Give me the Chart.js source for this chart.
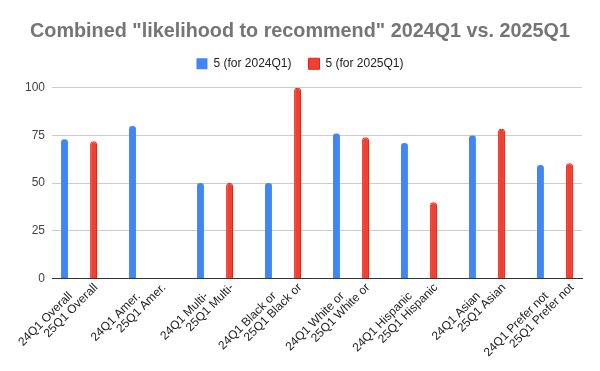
<!DOCTYPE html>
<html>
<head>
<meta charset="utf-8">
<script src="https://cdn.jsdelivr.net/npm/chart.js@4.4.1/dist/chart.umd.min.js"></script>
<style>
  html, body { margin: 0; padding: 0; background: #fff; }
  #wrap { width: 600px; height: 371px; position: relative; }
</style>
</head>
<body>
<div id="wrap"><canvas id="c" width="600" height="371"></canvas></div>
<script>
const titleText = 'Combined "likelihood to recommend" 2024Q1 vs. 2025Q1';
const categories = ['24Q1 Overall','25Q1 Overall','24Q1 Amer.','25Q1 Amer.','24Q1 Multi-','25Q1 Multi-','24Q1 Black or','25Q1 Black or','24Q1 White or','25Q1 White or','24Q1 Hispanic','25Q1 Hispanic','24Q1 Asian','25Q1 Asian','24Q1 Prefer not','25Q1 Prefer not'];
const seriesNames = ['5 (for 2024Q1)', '5 (for 2025Q1)'];
const values2024 = [73, null, 80, null, 50, null, 50, null, 76, null, 71, null, 75, null, 59.5, null];
const values2025 = [null, 72, null, null, null, 50, null, 100, null, 74, null, 40, null, 78.5, null, 60.4];
const yTicks = [0, 25, 50, 75, 100];

const BLUE = '#4285F4';
const RED = '#EA4335';
const FONT = "'Liberation Sans', Arial, sans-serif";

new Chart(document.getElementById('c'), {
  type: 'bar',
  data: {
    labels: categories,
    datasets: [
      { label: seriesNames[0], data: values2024, backgroundColor: BLUE, borderColor: BLUE, borderWidth: 0, order: 1,
        borderRadius: 3, categoryPercentage: 0.29, barPercentage: 1.4 },
      { label: seriesNames[1], data: values2025, backgroundColor: RED, borderColor: '#ff1a00', borderWidth: 1, order: 0,
        borderRadius: 3, categoryPercentage: 0.29, barPercentage: 1.4 }
    ]
  },
  options: {
    responsive: false,
    animation: false,
    devicePixelRatio: 1,
    layout: { padding: { left: 18, right: 18, top: 12, bottom: 9.2 } },
    plugins: {
      title: {
        display: true, text: titleText, color: '#757575',
        font: { family: FONT, size: 19.8, weight: 'bold' },
        padding: { top: 8, bottom: -3 }
      },
      subtitle: {
        display: true, text: '', weight: 500,
        font: { family: FONT, size: 1 },
        padding: { top: 6.8, bottom: 0 }
      },
      legend: {
        display: true, position: 'top',
        labels: {
          color: '#222', boxWidth: 11, boxHeight: 11, padding: 17,
          font: { family: FONT, size: 12 },
          sort: (a, b) => a.datasetIndex - b.datasetIndex
        }
      },
      tooltip: { enabled: false }
    },
    scales: {
      x: {
        offset: true,
        grid: { display: false, drawTicks: false },
        border: { display: true, color: '#333', width: 1 },
        afterBuildTicks: (scale) => { scale._startValue = -0.295; scale._valueRange = categories.length - 1 + 0.59; },
        ticks: {
          color: '#222', font: { family: FONT, size: 12, lineHeight: 1.0 },
          maxRotation: 45, minRotation: 45, autoSkip: false, padding: 3,
          callback: (v, i) => (i % 2 === 0 ? ['', categories[i]] : categories[i])
        }
      },
      y: {
        min: 0, max: 100,
        afterBuildTicks: (scale) => { scale.ticks = yTicks.map(v => ({ value: v })); },
        grid: { color: '#cccccc', drawTicks: false },
        border: { display: false },
        ticks: { color: '#444', font: { family: FONT, size: 12 }, padding: 7 }
      }
    }
  }
});
</script>
</body>
</html>
